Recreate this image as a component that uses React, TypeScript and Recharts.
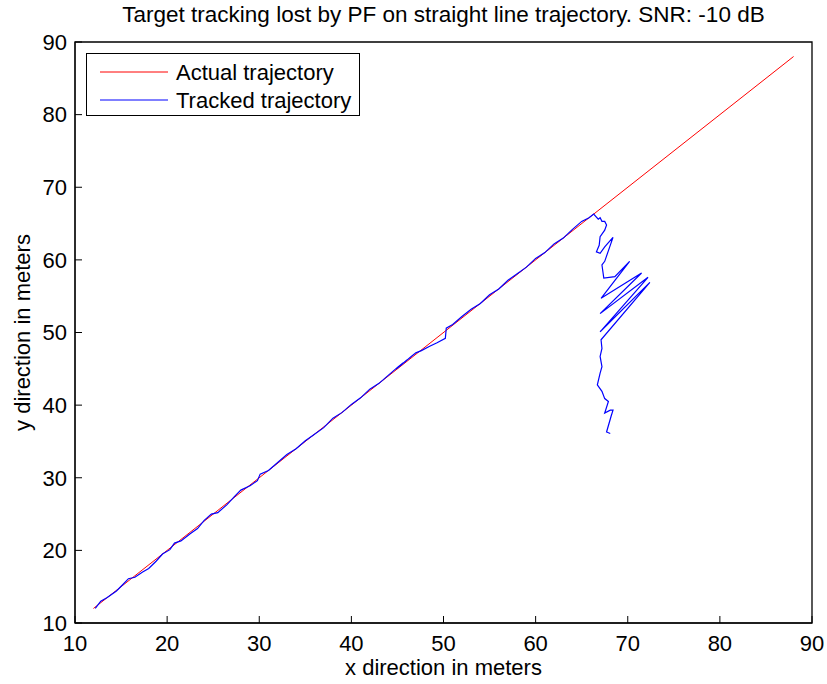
import React from 'react';
import { LineChart, Line, XAxis, YAxis, Label, ReferenceArea } from 'recharts';

// actual (straight) trajectory
const actualX = [12, 88];
const actualY = [12, 88];

// tracked trajectory
const trackedX = [
  12.2, 12.8, 13.5, 14.5, 15.2, 15.8, 16.5, 17.3, 18.0, 18.8, 19.5, 20.3, 20.8, 21.5,
  22.5, 23.3, 24.0, 24.8, 25.5, 26.5, 27.3, 28.0, 29.0, 29.8, 30.1, 31.0, 32.0, 33.0,
  34.0, 35.0, 36.0, 37.0, 38.0, 39.0, 40.0, 41.0, 42.0, 43.0, 44.0, 45.0, 45.6, 44.9,
  46.0, 45.3, 46.5, 47.0, 47.6, 48.5, 49.3, 50.2, 50.3, 51.0, 52.0, 53.0, 54.0, 55.0,
  56.0, 57.0, 58.0, 59.0, 60.0, 61.0, 62.0, 63.0, 64.0, 65.0, 65.8, 66.3,
  66.8, 67.0, 67.2, 67.5, 67.7, 67.5, 67.0, 66.9, 66.6, 67.0, 67.5, 68.4, 67.5, 67.2,
  67.4, 68.6, 70.2, 67.1, 71.5, 67.0, 72.2, 67.0, 72.4, 67.1, 67.2, 67.0, 67.2, 67.0,
  66.7, 67.2, 67.5, 67.9, 67.5, 68.1, 68.4, 68.2, 67.7, 68.1,
];
const trackedY = [
  12.0, 13.0, 13.5, 14.4, 15.3, 16.1, 16.3, 17.0, 17.5, 18.5, 19.5, 20.1, 21.0, 21.3,
  22.3, 23.0, 24.1, 25.0, 25.2, 26.3, 27.4, 28.3, 28.9, 29.6, 30.5, 31.0, 32.1, 33.2,
  34.0, 35.1, 36.0, 36.9, 38.2, 39.0, 40.1, 41.0, 42.2, 43.0, 44.1, 45.2, 45.8, 45.0,
  46.2, 45.4, 46.7, 47.2, 47.5, 48.1, 48.6, 49.2, 50.6, 51.1, 52.2, 53.2, 54.0, 55.2,
  56.0, 57.2, 58.1, 59.0, 60.2, 61.0, 62.2, 63.0, 64.2, 65.3, 65.8, 66.3,
  65.6, 65.8, 65.3, 65.3, 64.8, 64.1, 63.2, 62.0, 61.1, 60.9, 61.8, 63.1, 59.8, 59.3,
  57.5, 57.7, 59.8, 54.7, 58.2, 52.6, 57.6, 50.1, 56.9, 49.0, 47.8, 46.7, 45.3, 44.4,
  42.8, 41.9, 40.9, 40.5, 38.9, 39.3, 39.3, 38.5, 36.3, 36.1,
];

const xTicks = [10, 20, 30, 40, 50, 60, 70, 80, 90];
const yTicks = [10, 20, 30, 40, 50, 60, 70, 80, 90];

const actualData = actualX.map((x, i) => ({ x, y: actualY[i] }));
const trackedData = trackedX.map((x, i) => ({ x, y: trackedY[i] }));

const FONT = '"Liberation Sans", Arial, Helvetica, sans-serif';
const tickStyle = { fontSize: 22, fill: '#000', fontFamily: FONT };

const XLabel = (props: any) => {
  const { viewBox } = props;
  return (
    <text x={viewBox.x + viewBox.width / 2} y={675} textAnchor="middle" fontSize={22}
      fontFamily={FONT} fill="#000">
      x direction in meters
    </text>
  );
};

const YLabel = (props: any) => {
  const { viewBox } = props;
  const cy = viewBox.y + viewBox.height / 2;
  return (
    <text x={30} y={cy} textAnchor="middle" fontSize={22} fontFamily={FONT} fill="#000"
      transform={`rotate(-90, 30, ${cy})`}>
      y direction in meters
    </text>
  );
};

export default function App() {
  return (
    <div style={{ width: 827, height: 684, background: '#fff', position: 'relative' }}>
      <style>{'body{margin:0;background:#fff}'}</style>
      <LineChart width={827} height={684} margin={{ top: 42, right: 15, left: 0, bottom: 0 }}>
        <XAxis type="number" dataKey="x" domain={[10, 90]} ticks={xTicks} allowDataOverflow
          height={61} tick={tickStyle} tickSize={-7} tickMargin={19}
          axisLine={{ stroke: '#000', strokeWidth: 1 }} tickLine={{ stroke: '#000' }}>
          <Label content={<XLabel />} />
        </XAxis>
        <XAxis xAxisId="top" orientation="top" type="number" dataKey="x" domain={[10, 90]}
          ticks={xTicks} allowDataOverflow height={0} tick={false} tickSize={-7}
          axisLine={{ stroke: '#000' }} tickLine={{ stroke: '#000' }} />
        <YAxis type="number" dataKey="y" domain={[10, 90]} ticks={yTicks} allowDataOverflow
          width={75} tick={tickStyle} tickSize={-7} tickMargin={15}
          axisLine={{ stroke: '#000' }} tickLine={{ stroke: '#000' }}>
          <Label content={<YLabel />} />
        </YAxis>
        <YAxis yAxisId="right" orientation="right" type="number" dataKey="y" domain={[10, 90]}
          ticks={yTicks} allowDataOverflow width={0} tick={false} tickSize={-7}
          axisLine={{ stroke: '#000' }} tickLine={{ stroke: '#000' }} />
        <ReferenceArea x1={10} x2={90} y1={10} y2={90} fill="none" stroke="#000"
          strokeWidth={1.3} ifOverflow="visible" />
        <Line data={actualData} xAxisId="top" yAxisId="right" dataKey="y" type="linear"
          stroke="#ff0000" strokeWidth={1} dot={false} isAnimationActive={false}
          name="Actual trajectory" />
        <Line data={trackedData} dataKey="y" type="linear" stroke="#0000ff" strokeWidth={1.2}
          dot={false} isAnimationActive={false} name="Tracked trajectory" />
      </LineChart>
      <div style={{
        position: 'absolute', left: 0, top: 3, width: 887, textAlign: 'center',
        fontFamily: FONT, fontSize: 22.5, color: '#000', lineHeight: '24px',
      }}>
        Target tracking lost by PF on straight line trajectory. SNR: -10 dB
      </div>
      <div style={{
        position: 'absolute', left: 86, top: 53, width: 272, height: 61,
        border: '1px solid #000', background: '#fff',
      }}>
        <svg width={272} height={61} style={{ display: 'block' }}>
          <line x1={13} x2={81} y1={18} y2={18} stroke="#ff0000" strokeWidth={1} />
          <line x1={13} x2={81} y1={46} y2={46} stroke="#0000ff" strokeWidth={1} />
          <text x={89} y={26} fontSize={22} fontFamily={FONT}>Actual trajectory</text>
          <text x={89} y={54} fontSize={22} fontFamily={FONT}>Tracked trajectory</text>
        </svg>
      </div>
    </div>
  );
}
